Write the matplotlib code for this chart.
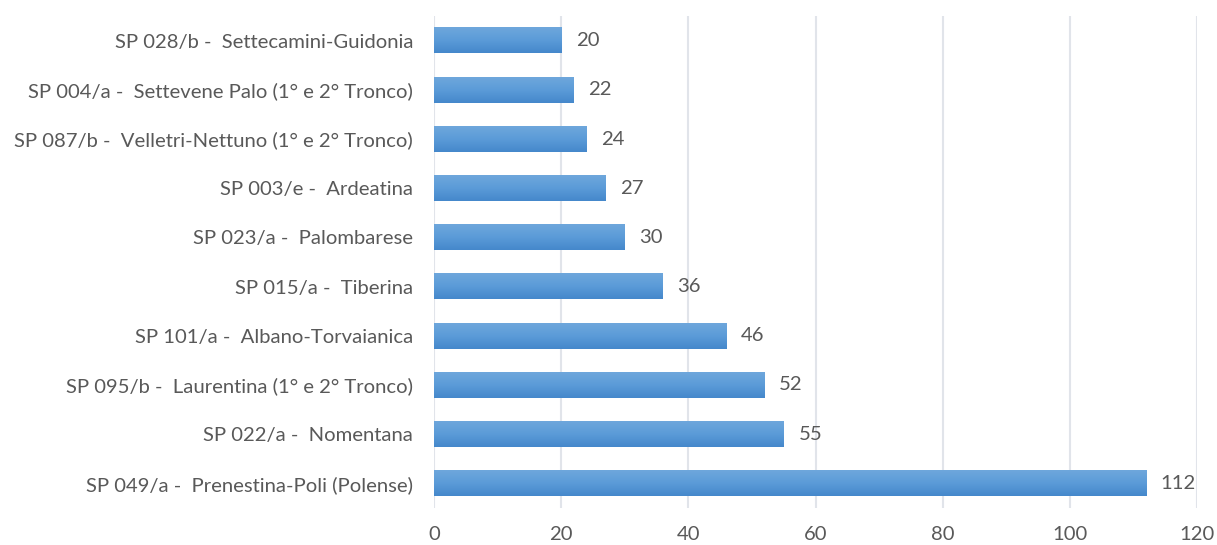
import numpy as np
import matplotlib.pyplot as plt
from matplotlib.colors import LinearSegmentedColormap

plt.rcParams['font.family'] = ['Lato', 'DejaVu Sans']

roads = [
    'SP 049/a -  Prenestina-Poli (Polense)',
    'SP 022/a -  Nomentana',
    'SP 095/b -  Laurentina (1° e 2° Tronco)',
    'SP 101/a -  Albano-Torvaianica',
    'SP 015/a -  Tiberina',
    'SP 023/a -  Palombarese',
    'SP 003/e -  Ardeatina',
    'SP 087/b -  Velletri-Nettuno (1° e 2° Tronco)',
    'SP 004/a -  Settevene Palo (1° e 2° Tronco)',
    'SP 028/b -  Settecamini-Guidonia',
]
counts = [112, 55, 52, 46, 36, 30, 27, 24, 22, 20]

text_col = '#595959'
grad = LinearSegmentedColormap.from_list('bar', ['#4588cb', '#5b9bd8', '#6ea7dc'])

fig = plt.figure(figsize=(12.17, 5.45), dpi=100)
ax = fig.add_axes([0.3566, 0.068, 0.627, 0.9026])

y = np.arange(len(roads))
h = 0.52
bars = ax.barh(y, counts, height=h, color='none', zorder=2)
g = np.linspace(0, 1, 64).reshape(-1, 1)
for b in bars:
    x0, y0 = b.get_x(), b.get_y()
    ax.imshow(g, cmap=grad, aspect='auto', origin='lower', zorder=2,
              extent=[x0, x0 + b.get_width(), y0, y0 + b.get_height()])

for yi, v in zip(y, counts):
    ax.text(v + 2.3, yi, str(v), va='center', ha='left', fontsize=14.6, color=text_col)

ax.set_xlim(0, 120)
ax.set_ylim(-0.5, len(roads) - 0.5)
ax.set_xticks(np.arange(0, 121, 20))
ax.set_yticks(y)
ax.set_yticklabels(roads)
ax.tick_params(axis='both', length=0, labelsize=14.6, labelcolor=text_col)
ax.tick_params(axis='y', pad=15)
ax.tick_params(axis='x', pad=13)
ax.grid(axis='x', color='#e1e4ea', linewidth=1.5, zorder=0)
ax.set_axisbelow(True)
for s in ax.spines.values():
    s.set_visible(False)

fig.savefig('out.png', dpi=100)
